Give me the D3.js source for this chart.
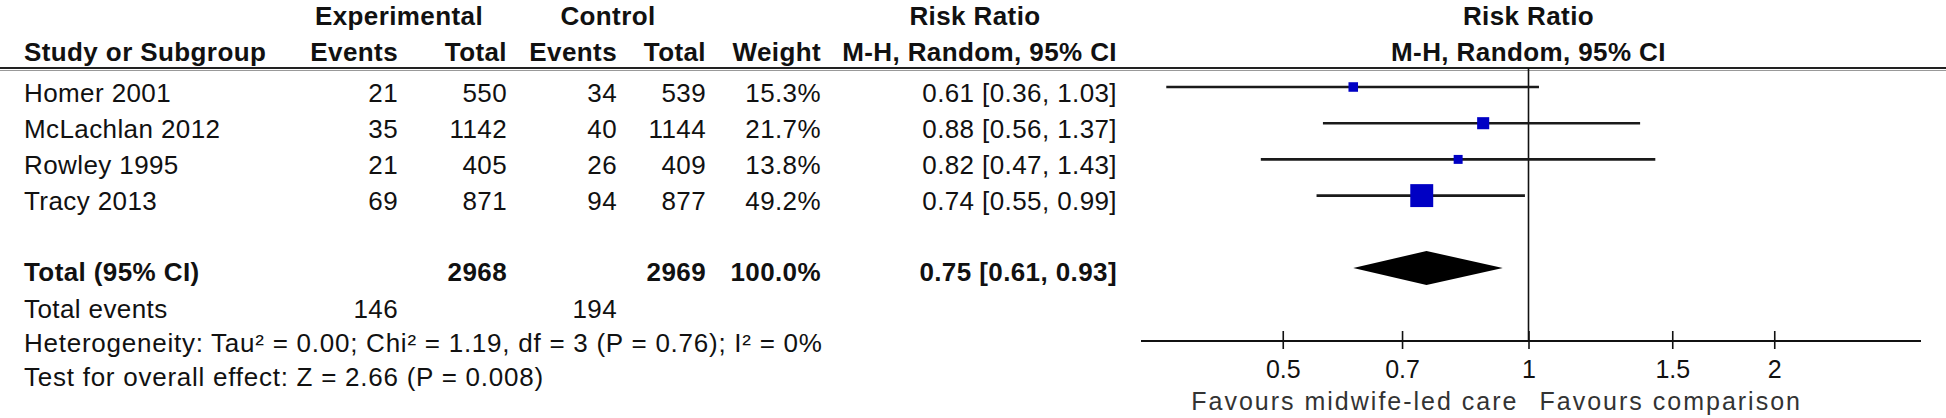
<!DOCTYPE html>
<html>
<head>
<meta charset="utf-8">
<script src="https://cdn.jsdelivr.net/npm/d3@7"></script>
<style>
  html, body { margin: 0; padding: 0; background: #fff; }
  svg { display: block; }
  text { font-family: "Liberation Sans", Arial, sans-serif; fill: #111; }
</style>
</head>
<body>
<svg id="chart" width="1946" height="418"></svg>
<script>
// ---------- data ----------
const studies     = ["Homer 2001", "McLachlan 2012", "Rowley 1995", "Tracy 2013"];
const expEvents   = [21, 35, 21, 69];
const expTotal    = [550, 1142, 405, 871];
const ctrlEvents  = [34, 40, 26, 94];
const ctrlTotal   = [539, 1144, 409, 877];
const weights     = [15.3, 21.7, 13.8, 49.2];
const riskRatio   = [0.61, 0.88, 0.82, 0.74];
const ciLower     = [0.36, 0.56, 0.47, 0.55];
const ciUpper     = [1.03, 1.37, 1.43, 0.99];

const pooledRR    = [0.75];
const pooledCI    = [0.61, 0.93];
const totalN      = [2968, 2969];
const totalWeight = ["100.0%"];
const totalEvents = [146, 194];

const axisTicks   = [0.5, 0.7, 1, 1.5, 2];
const favoursLbl  = ["Favours midwife-led care", "Favours comparison"];
const groupHeads  = ["Experimental", "Control", "Risk Ratio", "Risk Ratio"];
const colHeads    = ["Study or Subgroup", "Events", "Total", "Events", "Total", "Weight", "M-H, Random, 95% CI", "M-H, Random, 95% CI"];
const footLines   = [
  "Heterogeneity: Tau\u00B2 = 0.00; Chi\u00B2 = 1.19, df = 3 (P = 0.76); I\u00B2 = 0%",
  "Test for overall effect: Z = 2.66 (P = 0.008)"
];

// ---------- layout ----------
const svg = d3.select("#chart");
const FS = 26;
const rowY = d3.scaleLinear().domain([0, 1]).range([87, 123.2]);
const base = 14.5;
const footY = d3.scaleLinear().domain([0, 1]).range([318, 352]);
const colX = { study: 24, expE: 398, expT: 507, ctlE: 617, ctlT: 706, wt: 821, rr: 1117 };
const x = d3.scaleLog().domain([1 / 3, 3]).range([1139, 1918]);
const sq = d3.scaleLinear().domain([0, 100]).range([3.5, 43]);
const headerLineY = 68;
const axisY = 341;
const fmt2 = d3.format(".2f");

function txt(g, xx, yy, s, anchor, bold, size, ls) {
  return g.append("text")
    .attr("x", xx).attr("y", yy)
    .attr("text-anchor", anchor || "start")
    .style("font-size", (size || FS) + "px")
    .style("font-weight", bold ? "bold" : "normal")
    .style("letter-spacing", (ls == null ? 0.4 : ls) + "px")
    .text(s);
}

// headers
const hg = svg.append("g");
const h1 = 25;
txt(hg, (313 + 485) / 2, h1, groupHeads[0], "middle", true);
txt(hg, 608, h1, groupHeads[1], "middle", true);
txt(hg, 975, h1, groupHeads[2], "middle", true);
txt(hg, x(1), h1, groupHeads[3], "middle", true);
txt(hg, colX.study, 61, colHeads[0], "start", true);
txt(hg, colX.expE, 61, colHeads[1], "end", true);
txt(hg, colX.expT, 61, colHeads[2], "end", true);
txt(hg, colX.ctlE, 61, colHeads[3], "end", true);
txt(hg, colX.ctlT, 61, colHeads[4], "end", true);
txt(hg, colX.wt, 61, colHeads[5], "end", true);
txt(hg, colX.rr, 61, colHeads[6], "end", true);
txt(hg, x(1), 61, colHeads[7], "middle", true);

// header rule (double-ish)
svg.append("line").attr("x1", 0).attr("x2", 1946).attr("y1", headerLineY).attr("y2", headerLineY)
  .attr("stroke", "#222").attr("stroke-width", 2);
svg.append("line").attr("x1", 0).attr("x2", 1946).attr("y1", headerLineY + 2.5).attr("y2", headerLineY + 2.5)
  .attr("stroke", "#999").attr("stroke-width", 1);

// study rows
const rows = svg.append("g").selectAll("g").data(studies).join("g");
rows.each(function (d, i) {
  const g = d3.select(this);
  const yb = rowY(i) + base;
  txt(g, colX.study, yb, d, "start");
  txt(g, colX.expE, yb, expEvents[i], "end");
  txt(g, colX.expT, yb, expTotal[i], "end");
  txt(g, colX.ctlE, yb, ctrlEvents[i], "end");
  txt(g, colX.ctlT, yb, ctrlTotal[i], "end");
  txt(g, colX.wt, yb, weights[i].toFixed(1) + "%", "end");
  txt(g, colX.rr, yb, `${fmt2(riskRatio[i])} [${fmt2(ciLower[i])}, ${fmt2(ciUpper[i])}]`, "end");
});

// total row
const ty = rowY(5) + base - 2;
txt(svg, colX.study, ty, "Total (95% CI)", "start", true);
txt(svg, colX.expT, ty, totalN[0], "end", true);
txt(svg, colX.ctlT, ty, totalN[1], "end", true);
txt(svg, colX.wt, ty, totalWeight[0], "end", true);
txt(svg, colX.rr, ty, `${fmt2(pooledRR[0])} [${fmt2(pooledCI[0])}, ${fmt2(pooledCI[1])}]`, "end", true);

// total events + footers
const ey = footY(0);
txt(svg, colX.study, ey, "Total events", "start");
txt(svg, colX.expE, ey, totalEvents[0], "end");
txt(svg, colX.ctlE, ey, totalEvents[1], "end");
footLines.forEach((s, k) => txt(svg, colX.study, footY(1 + k), s, "start", false, FS, 0.75));

// ---------- forest plot ----------
const pg = svg.append("g");
// line of no effect
pg.append("line").attr("x1", x(1)).attr("x2", x(1)).attr("y1", headerLineY).attr("y2", axisY)
  .attr("stroke", "#111").attr("stroke-width", 1.6);

// CI lines
pg.selectAll("line.ci").data(studies).join("line").attr("class", "ci")
  .attr("x1", (d, i) => x(ciLower[i])).attr("x2", (d, i) => x(ciUpper[i]))
  .attr("y1", (d, i) => rowY(i)).attr("y2", (d, i) => rowY(i))
  .attr("stroke", "#1a1a1a").attr("stroke-width", 2.6);

// squares
pg.selectAll("rect.pt").data(studies).join("rect").attr("class", "pt")
  .attr("x", (d, i) => x(riskRatio[i]) - sq(weights[i]) / 2)
  .attr("y", (d, i) => rowY(i) - sq(weights[i]) / 2)
  .attr("width", (d, i) => sq(weights[i]))
  .attr("height", (d, i) => sq(weights[i]))
  .attr("fill", "#0000c4");

// pooled diamond
const dy = rowY(5), dh = 17;
pg.append("path")
  .attr("d", `M${x(pooledCI[0])},${dy} L${x(pooledRR[0])},${dy - dh} L${x(pooledCI[1])},${dy} L${x(pooledRR[0])},${dy + dh} Z`)
  .attr("fill", "#000");

// axis
const axis = d3.axisBottom(x).tickValues(axisTicks).tickFormat(d3.format("")).tickSize(9).tickPadding(10);
const ag = svg.append("g").attr("transform", `translate(0,${axisY})`).call(axis);
ag.select(".domain").attr("d", `M${x.range()[0] + 2},0H${x.range()[1] + 3}`).attr("stroke", "#111").attr("stroke-width", 2.2);
ag.selectAll(".tick line").attr("y1", -10).attr("y2", 8).attr("stroke", "#111").attr("stroke-width", 1.6);
ag.selectAll(".tick text")
  .attr("y", 37).attr("dy", null)
  .style("font-family", "'Liberation Sans', Arial, sans-serif")
  .style("font-size", "25px").style("fill", "#111");

// favours labels
txt(svg, x(1) - 10, 410, favoursLbl[0], "end", false, 25, 2.0).style("fill", "#333");
txt(svg, x(1) + 11, 410, favoursLbl[1], "start", false, 25, 2.0).style("fill", "#333");
</script>
</body>
</html>
